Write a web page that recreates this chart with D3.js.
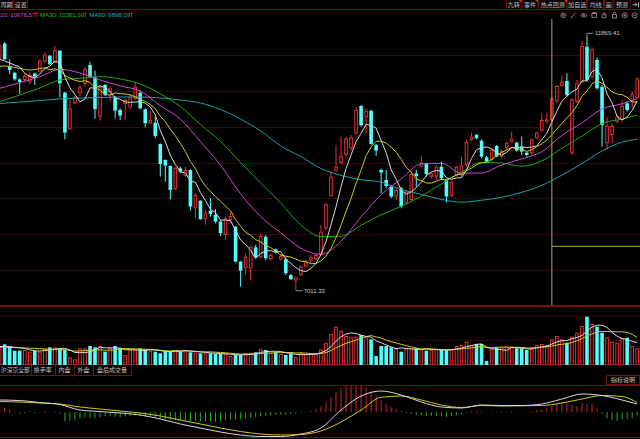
<!DOCTYPE html>
<html>
<head>
<meta charset="utf-8">
<script src="https://cdn.jsdelivr.net/npm/d3@7/dist/d3.min.js"></script>
<style>
html,body{margin:0;padding:0;background:#000;width:640px;height:439px;overflow:hidden;}
svg{display:block;}
</style>
</head>
<body>
<svg id="chart" width="640" height="439" xmlns="http://www.w3.org/2000/svg"></svg>
<script>
// ================= DATA =================
const firstIndex = -1; // first candle is half hidden at the left edge

const opens = [
11444,11730,11285,11171,11043,11031,10999,11158,11190,11380,
11495,11361,11590,10789,10090,10586,10776,10954,11317,11082,
10332,10935,10795,10700,10459,10573,10510,10668,10789,10471,
10204,10217,9810,9505,9391,8952,9346,9200,9314,8583,
8730,8374,8539,8456,8329,8075,8361,8234,7566,7439,
7439,7840,7649,8043,7611,7801,7611,7611,7312,7204,
7312,7471,7585,7611,7693,8202,8819,9302,9442,9600,
9728,10014,10535,10319,10446,9791,9314,9124,8996,8806,
8965,8679,8742,9251,9378,9442,9187,9187,9378,9124,
8819,9219,9219,9410,9887,9982,9874,9556,9505,9772,
9569,9728,9855,9836,9759,9645,9632,9918,10064,10236,
10268,10618,10916,11012,9632,10618,10999,11666,11094,11412,
10904,9823,9982,10236,10268,10586,10618,10681];

const highs = [
11730,11755,11425,11190,11063,11158,11190,11171,11425,11552,
11507,11679,11603,10808,10649,10726,10935,11285,11380,11209,
10935,10954,10904,10726,10490,10681,10764,10999,10827,10490,
10446,10332,9823,9518,9403,9378,9378,9378,9327,8869,
8742,8564,8774,8564,8361,8424,8501,8246,7585,7725,
7878,7884,8107,8075,7725,7820,7712,7649,7331,7280,
7503,7598,7693,7725,8265,8679,9283,9791,9950,9950,
9982,10510,10554,10490,10459,9810,9346,9314,9028,8965,
8996,8933,9283,9314,9581,9454,9283,9410,9473,9136,
9111,9397,9569,9887,10026,10001,9899,9581,9728,9791,
9709,9855,10045,9855,9950,9664,9918,10045,10395,10395,
10713,10935,11107,11158,10681,11031,11781,11869.41,11654,11463,
10935,10332,10204,10363,10649,10618,10808,11082];

const lows = [
11425,11412,11145,11018,10764,10999,10954,10935,11171,11361,
11317,11349,10700,9899,10077,10573,10713,10904,11063,10293,
10255,10726,10618,10300,10268,10268,10471,10649,10471,10128,
10192,9918,9187,9092,8755,8933,9251,9187,8539,8393,
8361,8272,8424,8297,8056,7979,8329,7547,7089,7312,
7204,7630,7630,7598,7585,7725,7585,7312,7217,7011.33,
7293,7458,7534,7598,7662,8170,8806,9283,9429,9569,
9683,9982,10141,10014,9791,9581,8869,8965,8774,8742,
8583,8647,8710,8996,9365,9187,9155,9124,9124,8691,
8806,9187,9187,9378,9874,9899,9537,9454,9473,9556,
9537,9696,9836,9664,9600,9569,9600,9899,10045,10204,
10204,10586,10904,10713,9600,10586,10967,10999,11043,10840,
9759,9696,9823,10204,10236,10427,10490,10662];

const closes = [
11698,11425,11221,11043,10993,11107,11126,11094,11399,11520,
11330,11603,10967,10026,10490,10700,10891,11240,11082,10471,
10904,10745,10872,10446,10351,10649,10700,10904,10490,10204,
10268,9963,9429,9397,8933,9359,9283,9314,8615,8838,
8374,8501,8475,8329,8107,8393,8437,7566,7394,7662,
7852,7649,8056,7630,7693,7738,7674,7344,7229,7267,
7471,7566,7649,7693,8138,8660,9187,9378,9581,9918,
9937,10459,10166,10446,9810,9683,9264,9009,8806,8933,
8615,8901,9238,9200,9454,9238,9251,9378,9155,8806,
9092,9378,9403,9855,9950,9918,9569,9473,9696,9569,
9677,9836,9918,9683,9664,9600,9899,10026,10268,10281,
10681,10916,10999,10745,10662,10967,11679,11031,11616,10872,
10172,10153,10153,10332,10535,10459,10764,11063];

const volumes = [
180,207,190,143,143,150,133,140,133,167,
177,177,167,150,77,57,167,167,190,177,
190,133,167,190,167,100,150,150,167,157,
143,133,117,140,140,150,133,150,127,123,
117,117,117,110,110,110,90,100,100,117,
123,127,157,150,123,133,110,100,110,77,
123,110,110,117,157,223,310,383,343,290,
277,283,300,277,257,90,190,190,177,167,
133,157,167,167,157,143,150,157,150,150,
150,190,200,233,200,210,210,40,157,177,
177,183,183,167,167,150,177,200,210,200,
257,290,257,223,283,323,390,483,410,383,
323,277,233,223,267,273,190,167];

// moving-average values read at the window start (history lies off-screen)
const ma5Head  = [11431,11393,11355,11316];
const ma10Head = [11290,11300,11290,11270,11250,11230,11220,11230,11250];
const volMa5Head  = [185,185,182,178];
const volMa10Head = [180,178,176,174,172,170,168,166,164];

// longer averages and MACD lines, read every 4th candle
const sampleIndex = [-1,3,7,11,15,19,23,27,31,35,39,43,47,51,55,59,63,67,71,75,79,83,87,91,95,99,103,107,111,115,119,123,126];
const ma20 = [10872,10979,11093,11234,11164,11032,10918,10819,10541,10285,9857,9407,8859,8427,8115,7823,7705,7956,8419,8842,9145,9432,9443,9253,9257,9410,9525,9664,9974,10212,10476,10579,10676.57];
const ma30 = [10617,10744,10878,11030,11063,11093,11050,10954,10767,10524,10184,9861,9457,9065,8684,8266,8043,8051,8261,8459,8622,8814,9048,9273,9460,9446,9387,9488,9728,9958,10200,10286,10361.00];
const ma60 = [10582,10611,10639,10668,10687,10697,10706,10706,10687,10649,10592,10468,10287,10058,9772,9571,9343,9211,9129,9081,8942,8848,8753,8700,8738,8793,8888,9021,9215,9437,9677,9846,9898.09];
const dif = [344,330,274,218,64,22,-20,-76,-188,-328,-440,-552,-636,-678,-678,-608,-440,64,456,596,484,288,148,120,204,190,190,232,372,512,470,344,232];
const dea = [302,288,260,232,148,92,36,-20,-104,-216,-328,-440,-538,-608,-636,-622,-524,-272,64,420,456,344,204,134,190,176,182,190,260,372,470,442,274];
const macdHist = [
112,132,84,14,-42,-28,28,-28,14,28,
14,28,-28,-252,-244,-210,-168,-140,-154,-168,
-140,-112,-112,-126,-140,-112,-98,-84,-98,-112,
-112,-140,-168,-196,-224,-224,-224,-224,-252,-252,
-252,-252,-266,-266,-252,-224,-196,-196,-196,-182,
-154,-140,-112,-98,-84,-70,-70,-70,-56,-42,
-14,14,42,84,168,280,420,560,672,756,
784,812,756,700,588,476,336,224,140,84,
28,-28,-42,-70,-84,-98,-98,-98,-112,-126,
-112,-84,-56,-14,28,42,28,14,14,14,
14,14,28,14,8,8,28,64,84,112,
176,252,272,232,204,176,272,232,252,112,
-48,-168,-216,-244,-196,-196,-168,-76];

const legendItems = [
  {text:"20: 10676.57", color:"#d048d0"},
  {text:"MA30: 10361.00", color:"#18c018"},
  {text:"MA60: 9898.09", color:"#18b0b8"}
];
const toolbarLeft  = ["周期","设置"];
const toolbarRight = ["九转","事件","热点回测","加自选","均线","画","预测"];
const tabs = ["沪深京全部","换手率","内盘","外盘","盘后成交量"];
const helpLabel = "指标说明";
const crossIndex = 109;
const crossPrice = 7859;

// ================= RENDER =================
const W = 640, H = 439;
const COL = {
  bg:"#000", grid:"#380606", border:"#6e1212",
  up:"#e43232", down:"#54fcfc",
  ma5:"#d8d8d8", ma10:"#cccc10", ma20:"#d048d0", ma30:"#14ac14", ma60:"#14a4ac",
  text:"#c4c4c4", cross:"#b0b010"
};
const F_LAT = "'Liberation Sans', Arial, sans-serif";
const F_CJK = "'Noto Sans CJK SC', 'Liberation Sans', sans-serif";

const MAIN_T = 19, MAIN_B = 306, VOL_T = 306, VOL_B = 365;
const svg = d3.select("#chart");
svg.append("rect").attr("width", W).attr("height", H).attr("fill", COL.bg);

const n = closes.length;
const idx = d3.range(n).map(i => firstIndex + i);
const bars = idx.map((k, i) => ({k, o:opens[i], h:highs[i], l:lows[i], c:closes[i], v:volumes[i]}));

const x  = d3.scaleLinear().domain([firstIndex, firstIndex + n - 1]).range([-0.35, 637.19]);
const yP = d3.scaleLinear().domain([6720, 12194]).range([MAIN_B, MAIN_T]);
const yV = d3.scaleLinear().domain([0, 590]).range([VOL_B, VOL_T]);
const yM = d3.scaleLinear().domain([-700, 700]).range([437.3, 387.3]);

const defs = svg.append("defs");
defs.append("clipPath").attr("id","clipMain").append("rect").attr("x",0).attr("y",MAIN_T).attr("width",W).attr("height",MAIN_B-MAIN_T);
defs.append("clipPath").attr("id","clipVol").append("rect").attr("x",0).attr("y",VOL_T+1).attr("width",W).attr("height",VOL_B-VOL_T-1);
defs.append("clipPath").attr("id","clipMacd").append("rect").attr("x",0).attr("y",386).attr("width",W).attr("height",51);

// ---- grid & frame lines ----
const gGrid = svg.append("g").attr("shape-rendering","crispEdges");
d3.range(1, 8).forEach(j => {
  const yy = Math.round(MAIN_T + j * (MAIN_B - MAIN_T) / 8) + 0.5;
  gGrid.append("line").attr("x1",0).attr("x2",W).attr("y1",yy).attr("y2",yy).attr("stroke",COL.grid);
});
[316.5, 340.5].forEach(yy => gGrid.append("line").attr("x1",0).attr("x2",W).attr("y1",yy).attr("y2",yy).attr("stroke",COL.grid));
[9.5, 385.5, 437.5].forEach(yy => gGrid.append("line").attr("x1",0).attr("x2",W).attr("y1",yy).attr("y2",yy).attr("stroke",COL.border));
gGrid.append("line").attr("x1",0).attr("x2",W).attr("y1",306).attr("y2",306).attr("stroke",COL.border).attr("stroke-width",2);
gGrid.append("line").attr("x1",0).attr("x2",W).attr("y1",364.5).attr("y2",364.5).attr("stroke",COL.border);

// ---- candles ----
const bw = 3.6;
const gMain = svg.append("g").attr("clip-path","url(#clipMain)");
const gC = gMain.append("g");
bars.forEach(d => {
  const cx = x(d.k);
  const up = d.c >= d.o;
  const col = up ? COL.up : COL.down;
  const top = yP(Math.max(d.o, d.c)), bot = yP(Math.min(d.o, d.c));
  gC.append("line").attr("x1",cx).attr("x2",cx).attr("y1",yP(d.h)).attr("y2",top).attr("stroke",col).attr("stroke-width",1);
  gC.append("line").attr("x1",cx).attr("x2",cx).attr("y1",bot).attr("y2",yP(d.l)).attr("stroke",col).attr("stroke-width",1);
  if (up) {
    gC.append("rect").attr("x",cx - bw/2 + 0.5).attr("y",top + 0.5)
      .attr("width",bw - 1).attr("height",Math.max(bot - top - 1, 0.3))
      .attr("fill","#000").attr("stroke",col).attr("stroke-width",1);
  } else {
    gC.append("rect").attr("x",cx - bw/2).attr("y",top)
      .attr("width",bw).attr("height",Math.max(bot - top, 1)).attr("fill",col);
  }
});

// ---- moving averages ----
function rolling(values, period, head) {
  return values.map((v, i) => i < period - 1 ? head[i] : d3.mean(values.slice(i - period + 1, i + 1)));
}
const ma5 = rolling(closes, 5, ma5Head);
const ma10 = rolling(closes, 10, ma10Head);
const lineFull = (arr, ys) => d3.line().x((d, i) => x(idx[i])).y(d => ys(d))(arr);
const lineSparse = (vals, ys) => d3.line().curve(d3.curveMonotoneX)
  .x(d => x(d[0])).y(d => ys(d[1]))(sampleIndex.map((k, i) => [k, vals[i]]));

const gMA = gMain.append("g").attr("fill","none").attr("stroke-width",1);
gMA.append("path").attr("d", lineSparse(ma60, yP)).attr("stroke", COL.ma60);
gMA.append("path").attr("d", lineSparse(ma30, yP)).attr("stroke", COL.ma30);
gMA.append("path").attr("d", lineSparse(ma20, yP)).attr("stroke", COL.ma20);
gMA.append("path").attr("d", lineFull(ma10, yP)).attr("stroke", COL.ma10);
gMA.append("path").attr("d", lineFull(ma5, yP)).attr("stroke", COL.ma5);

// ---- max / min labels ----
const iMax = d3.maxIndex(highs), iMin = d3.minIndex(lows);
const fmt = d3.format(".2f");
{
  const cx = x(idx[iMax]), yy = yP(highs[iMax]);
  svg.append("path").attr("d",`M${cx},${yy} V${yy-2.7} H${cx+6}`).attr("fill","none").attr("stroke","#b8b8b8").attr("stroke-width",0.8);
  svg.append("text").attr("x",cx+8).attr("y",yy-2.7+2.1).attr("font-family",F_LAT).attr("font-size",6)
    .attr("fill",COL.text).text(fmt(highs[iMax]));
}
{
  const cx = x(idx[iMin]), yy = yP(lows[iMin]);
  svg.append("path").attr("d",`M${cx},${yy} H${cx+6.5}`).attr("fill","none").attr("stroke","#b8b8b8").attr("stroke-width",0.8);
  svg.append("text").attr("x",cx+7.8).attr("y",yy+2.1).attr("font-family",F_LAT).attr("font-size",6)
    .attr("fill",COL.text).text(fmt(lows[iMin]));
}

// ---- volume ----
const gVol = svg.append("g").attr("clip-path","url(#clipVol)");
bars.forEach(d => {
  const cx = x(d.k);
  const up = d.c >= d.o;
  const top = yV(d.v);
  if (up) {
    gVol.append("rect").attr("x",cx - bw/2 + 0.5).attr("y",top + 0.5).attr("width",bw - 1)
      .attr("height",Math.max(VOL_B - top - 0.5, 0.3)).attr("fill","#000").attr("stroke",COL.up).attr("stroke-width",1);
  } else {
    gVol.append("rect").attr("x",cx - bw/2).attr("y",top).attr("width",bw)
      .attr("height",VOL_B - top).attr("fill",COL.down);
  }
});
const vma5 = rolling(volumes, 5, volMa5Head);
const vma10 = rolling(volumes, 10, volMa10Head);
gVol.append("path").attr("d", lineFull(vma10, yV)).attr("fill","none").attr("stroke",COL.ma10).attr("stroke-width",1);
gVol.append("path").attr("d", lineFull(vma5, yV)).attr("fill","none").attr("stroke",COL.ma5).attr("stroke-width",1);

// ---- MACD ----
const gMacd = svg.append("g").attr("clip-path","url(#clipMacd)");
bars.forEach((d, i) => {
  const v = macdHist[i];
  gMacd.append("line").attr("x1",x(d.k)).attr("x2",x(d.k)).attr("y1",yM(0)).attr("y2",yM(v))
    .attr("stroke", v >= 0 ? "#d02424" : "#1eb01e").attr("stroke-width",1);
});
gMacd.append("path").attr("d", lineSparse(dea, yM)).attr("fill","none").attr("stroke",COL.ma10).attr("stroke-width",1);
gMacd.append("path").attr("d", lineSparse(dif, yM)).attr("fill","none").attr("stroke",COL.ma5).attr("stroke-width",1);

// ---- crosshair ----
const cxX = x(crossIndex), cyY = yP(crossPrice);
svg.append("line").attr("x1",cxX).attr("x2",cxX).attr("y1",MAIN_T).attr("y2",305).attr("stroke",COL.cross).attr("stroke-width",1);
svg.append("line").attr("x1",cxX).attr("x2",W).attr("y1",cyY).attr("y2",cyY).attr("stroke",COL.cross).attr("stroke-width",1);

// ---- toolbar ----
const gTB = svg.append("g");
const leftEdges = [-6, 13.3, 28];
toolbarLeft.forEach((t, i) => {
  gTB.append("rect").attr("x",leftEdges[i]+0.5).attr("y",-1).attr("width",leftEdges[i+1]-leftEdges[i]-1).attr("height",10.5)
    .attr("fill","#000").attr("stroke",COL.border).attr("stroke-width",1);
  const tx = i === 0 ? 6.6 : (leftEdges[i]+leftEdges[i+1])/2;
  gTB.append("text").attr("x",tx).attr("y",7).attr("text-anchor","middle")
    .attr("font-family",F_CJK).attr("font-size",6).attr("fill",COL.text).text(t);
});
const rightEdges = [506, 521.7, 538.3, 567.3, 587.3, 604, 613.3, 630.7];
toolbarRight.forEach((t, i) => {
  gTB.append("rect").attr("x",rightEdges[i]+0.5).attr("y",-1).attr("width",rightEdges[i+1]-rightEdges[i]-1).attr("height",10.5)
    .attr("fill","#000").attr("stroke",COL.border).attr("stroke-width",1);
  gTB.append("text").attr("x",(rightEdges[i]+rightEdges[i+1])/2).attr("y",7).attr("text-anchor","middle")
    .attr("font-family",F_CJK).attr("font-size",6).attr("fill",COL.text).text(t);
  if (i < 3) {
    const xr = rightEdges[i+1];
    gTB.append("path").attr("d",`M${xr-3.2},0 H${xr} V3.2 Z`).attr("fill","#e02020");
  }
});
// exit icon
gTB.append("path").attr("d","M632.5,4.7 H637 M635.3,3 L637,4.7 L635.3,6.4 M638.5,2 V7.4").attr("fill","none").attr("stroke","#bbb").attr("stroke-width",0.9);

// ---- icon row ----
const gI = svg.append("g").attr("stroke","#999").attr("fill","none").attr("stroke-width",0.8);
const iy = 15.3;
gI.append("circle").attr("cx",563.3).attr("cy",iy).attr("r",2.4);
gI.append("circle").attr("cx",563.3).attr("cy",iy).attr("r",0.9);
gI.append("path").attr("d",`M571,${iy+2.6} L575.4,${iy-2.4} M570.8,${iy+2.6} H572.5`);
gI.append("ellipse").attr("cx",583.8).attr("cy",iy).attr("rx",2.8).attr("ry",1.7);
gI.append("circle").attr("cx",583.8).attr("cy",iy).attr("r",0.7).attr("fill","#999");
gI.append("rect").attr("x",591.9).attr("y",iy-1.8).attr("width",4.8).attr("height",3.8);
gI.append("path").attr("d",`M592.6,${iy-1.8} V${iy-2.8} H596 V${iy-1.8}`);
gI.append("path").attr("d",`M602,${iy+2.5} V${iy-1} M603.3,${iy} V${iy-2.6} M604.6,${iy} V${iy-2.8} M605.9,${iy+0.3} V${iy-2} M602,${iy+2.5} H605.9 V${iy}`);
gI.append("rect").attr("x",612.4).attr("y",iy-0.6).attr("width",4.2).attr("height",3.2);
gI.append("path").attr("d",`M613.3,${iy-0.6} V${iy-2} A1.2,1.2 0 0 1 615.7,${iy-2} V${iy-0.6}`);
gI.append("circle").attr("cx",624.7).attr("cy",iy).attr("r",2.5);
gI.append("path").attr("d",`M623.3,${iy} H626.1 M624.7,${iy-1.4} V${iy+1.4}`);
gI.append("circle").attr("cx",634.7).attr("cy",iy).attr("r",2.5);
gI.append("path").attr("d",`M633.3,${iy} H636.1`);

// ---- legend ----
const gL = svg.append("g");
const legendX = [0.3, 40, 89.3];
const arrowX = [36.4, 85.3, 131.5];
legendItems.forEach((it, i) => {
  gL.append("text").attr("x",legendX[i]).attr("y",17.3).attr("font-family",F_LAT).attr("font-size",6)
    .attr("fill",it.color).text(it.text);
  const ax = arrowX[i];
  gL.append("path").attr("d",`M${ax},17.6 V12.6 M${ax-1.3},14 L${ax},12.5 L${ax+1.3},14`)
    .attr("fill","none").attr("stroke","#e02020").attr("stroke-width",0.8);
});

// ---- tabs ----
const gT = svg.append("g");
const tabEdges = [0, 30.7, 55, 74, 93, 131];
gT.append("line").attr("x1",0).attr("x2",131).attr("y1",375.5).attr("y2",375.5).attr("stroke",COL.border).attr("shape-rendering","crispEdges");
tabs.forEach((t, i) => {
  gT.append("line").attr("x1",tabEdges[i+1]+0.5).attr("x2",tabEdges[i+1]+0.5).attr("y1",364.5).attr("y2",375.5)
    .attr("stroke",COL.border).attr("shape-rendering","crispEdges");
  gT.append("text").attr("x",(tabEdges[i]+tabEdges[i+1])/2).attr("y",372).attr("text-anchor","middle")
    .attr("font-family",F_CJK).attr("font-size",i === 0 ? 5.8 : 6).attr("fill",COL.text).text(t);
});
gT.append("rect").attr("x",606.5).attr("y",375.5).attr("width",33).attr("height",9)
  .attr("fill","#000").attr("stroke",COL.border).attr("shape-rendering","crispEdges");
gT.append("text").attr("x",623).attr("y",382.3).attr("text-anchor","middle")
  .attr("font-family",F_CJK).attr("font-size",6).attr("fill",COL.text).text(helpLabel);
</script>
</body>
</html>
